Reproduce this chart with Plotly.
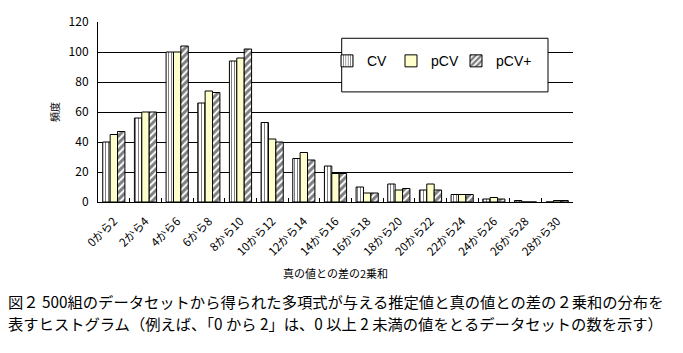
import plotly.graph_objects as go

categories = ["0から2", "2から4", "4から6", "6から8", "8から10", "10から12", "12から14",
              "14から16", "16から18", "18から20", "20から22", "22から24", "24から26",
              "26から28", "28から30"]
cv = [40, 56, 100, 66, 94, 53, 29, 24, 10, 12, 8, 5, 2, 1, 0]
pcv = [45, 60, 100, 74, 96, 42, 33, 19, 6, 8, 12, 5, 3, 0, 1]
pcv_plus = [47, 60, 104, 73, 102, 40, 28, 19, 6, 9, 8, 5, 2, 0, 1]

y_title = "頻度"
x_title = "真の値との差の2乗和"
caption1 = "図２ 500組のデータセットから得られた多項式が与える推定値と真の値との差の２乗和の分布を"
caption2 = "表すヒストグラム（例えば、「0 から 2」は、0 以上 2 未満の値をとるデータセットの数を示す）"

JP = "Noto Sans CJK JP"

fig = go.Figure()
fig.add_trace(go.Bar(
    x=categories, y=cv, name="CV", legend="legend",
    marker=dict(color="white", line=dict(color="black", width=1),
                pattern=dict(shape="|", fgcolor="black", bgcolor="white", size=3, solidity=0.35)),
))
fig.add_trace(go.Bar(
    x=categories, y=pcv, name="pCV", legend="legend2",
    marker=dict(color="#FFFFCC", line=dict(color="black", width=1)),
))
fig.add_trace(go.Bar(
    x=categories, y=pcv_plus, name="pCV+", legend="legend3",
    marker=dict(color="white", line=dict(color="black", width=1),
                pattern=dict(shape="/", fgcolor="black", bgcolor="white", size=5, solidity=0.6)),
))

L, R, T, B = 98, 110, 14, 151
W, H = 683, 353
pw, ph = W - L - R, H - T - B

def px(x):
    return (x - L) / pw

def py(y):
    return (H - B - y) / ph

def leg(xpix):
    return dict(orientation="h", x=px(xpix), y=py(55), xanchor="left", yanchor="middle",
                bgcolor="rgba(0,0,0,0)", borderwidth=0,
                font=dict(family="Liberation Sans", size=14, color="black"))

fig.update_layout(
    width=W, height=H,
    margin=dict(l=L, r=R, t=T, b=B, pad=0),
    paper_bgcolor="white", plot_bgcolor="white",
    barmode="group", bargap=0.3, bargroupgap=0,
    font=dict(family=JP, size=11, color="black"),
    showlegend=True,
    legend=leg(327), legend2=leg(391), legend3=leg(456),
    xaxis=dict(type="category", showline=True, linecolor="black", linewidth=1,
               ticks="inside", ticklen=4, tickcolor="black", tickson="boundaries",
               tickangle=-45, tickfont=dict(family=JP, size=11.5), ticklabelstandoff=7,
               showgrid=False,
               title=dict(text=x_title, font=dict(family=JP, size=11), standoff=12)),
    yaxis=dict(range=[0, 120], dtick=20, showline=True, linecolor="black", linewidth=1,
               showgrid=True, gridcolor="black", gridwidth=1, zeroline=False,
               ticks="", ticklabelstandoff=6, tickfont=dict(family=JP, size=12),
               title=dict(text=y_title, font=dict(family=JP, size=10, color="black"), standoff=7)),
    shapes=[dict(type="rect", xref="paper", yref="paper",
                 x0=px(341.7), x1=px(548), y0=py(87), y1=py(31),
                 line=dict(color="black", width=1), fillcolor="white", layer="above")],
    annotations=[
        dict(text=caption1, xref="paper", yref="paper", x=px(6), y=py(305),
             xanchor="left", yanchor="middle", showarrow=False,
             font=dict(family=JP, size=15.3, color="black")),
        dict(text=caption2, xref="paper", yref="paper", x=px(6), y=py(328),
             xanchor="left", yanchor="middle", showarrow=False,
             font=dict(family=JP, size=15.3, color="black")),
    ],
)

fig.write_html("out.html")
